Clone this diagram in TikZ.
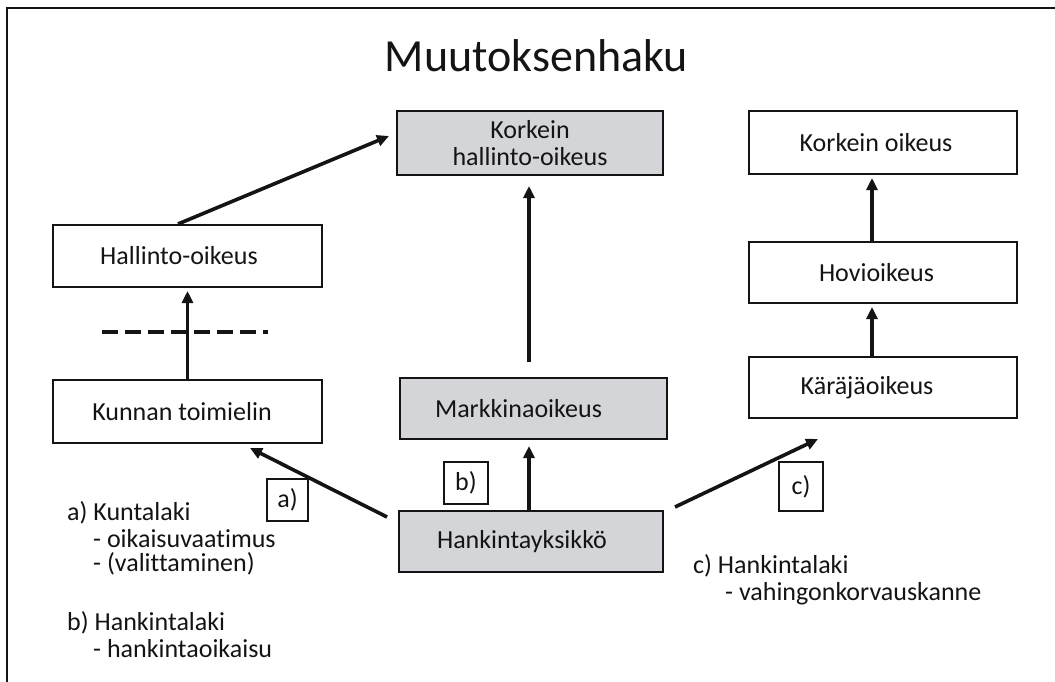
\documentclass[tikz,border=0pt]{standalone}
\usepackage{fontspec}
\setmainfont{Carlito}[Ligatures=NoCommon]
\usetikzlibrary{arrows.meta,calc}
\definecolor{boxgray}{RGB}{212,213,216}
\definecolor{ink}{RGB}{20,20,20}
\begin{document}
\begin{tikzpicture}[x=1pt,y=-1pt,
  every node/.style={font=\fontsize{26}{27}\selectfont, text=ink},
  court/.style={draw=ink, line width=2pt, inner sep=0pt, align=center},
  graycourt/.style={court, fill=boxgray},
  tag/.style={draw=ink, line width=1.6pt, inner sep=0pt},
  note/.style={anchor=base west, inner sep=0pt},
  arr/.style={draw=ink, line width=3.6pt, -{Triangle[length=12pt,width=11pt]}},
]
\useasboundingbox (0,0) rectangle (1055,682);
% frame
\draw[ink, line width=2pt] (1055,8) -- (7,8) -- (7,682);

% title
\node[anchor=base, inner sep=0pt, font=\fontsize{46}{50}\selectfont] (title) at (536.5,72) {Muutoksenhaku};

% courts
\node[graycourt, minimum width=266pt, minimum height=64pt] (kho) at (530,143) {Korkein\\hallinto-oikeus};
\node[court, minimum width=268pt, minimum height=63pt] (ko) at (883,142.5) {Korkein oikeus\hspace{14pt}};
\node[court, minimum width=269pt, minimum height=62pt] (ho) at (187.5,256) {Hallinto-oikeus\hspace{17pt}};
\node[court, minimum width=268pt, minimum height=61pt] (hovi) at (883,272.5) {Hovioikeus\hspace{13pt}};
\node[court, minimum width=269pt, minimum height=63pt] (kt) at (187.5,411.5) {Kunnan toimielin\hspace{11pt}};
\node[graycourt, minimum width=267pt, minimum height=61pt] (mo) at (533.5,408.5) {Markkinaoikeus\hspace{30pt}};
\node[court, minimum width=268pt, minimum height=61pt] (ka) at (883,387.5) {Käräjäoikeus\hspace{32pt}};
\node[graycourt, minimum width=264pt, minimum height=61pt] (hy) at (531,541.5) {Hankintayksikkö\hspace{18pt}};

% tags
\node[tag, minimum width=41pt, minimum height=42pt] (ta) at (287.5,500) {a)};
\node[tag, minimum width=44pt, minimum height=42pt] (tb) at (466,483) {b)};
\node[tag, minimum width=44pt, minimum height=49pt] (tc) at (801,486.5) {c)};

% dashed separator
\draw[ink, line width=4pt, dash pattern=on 16pt off 7pt] (102,332) -- (268,332);

% arrows
\draw[arr] ($(ho.north)+(-9.5,0)$) -- ($(kho.west)+(-7,-7)$);
\draw[arr] (kt.north) -- ($(ho.south)+(0,3)$);
\draw[arr] ($(mo.north)+(-4.5,-15)$) -- ($(kho.south)+(-1,10)$);
\draw[arr] ($(hy.north)+(-2,0)$) -- ($(hy.north |- mo.south)+(-2,6)$);
\draw[arr] ($(hovi.north)+(-11,0)$) -- ($(ko.south)+(-11,3)$);
\draw[arr] ($(ka.north)+(-11,0)$) -- ($(hovi.south)+(-11,3)$);
\draw[arr] ($(hy.north west)+(-11,7)$) -- ($(kt.south)+(62.5,4)$);
\draw[arr] ($(hy.north east)+(11,-3)$) -- ($(ka.south)+(-65,20)$);

% notes
\node[note] (na1) at (67,520) {a) Kuntalaki};
\node[note] (na2) at (93,547) {- oikaisuvaatimus};
\node[note] (na3) at (93,571) {- (valittaminen)};
\node[note] (nb1) at (67,630) {b) Hankintalaki};
\node[note] (nb2) at (93,657) {- hankintaoikaisu};
\node[note] (nc1) at (693,573) {c) Hankintalaki};
\node[note] (nc2) at (725,600) {- vahingonkorvauskanne};
\end{tikzpicture}
\end{document}
